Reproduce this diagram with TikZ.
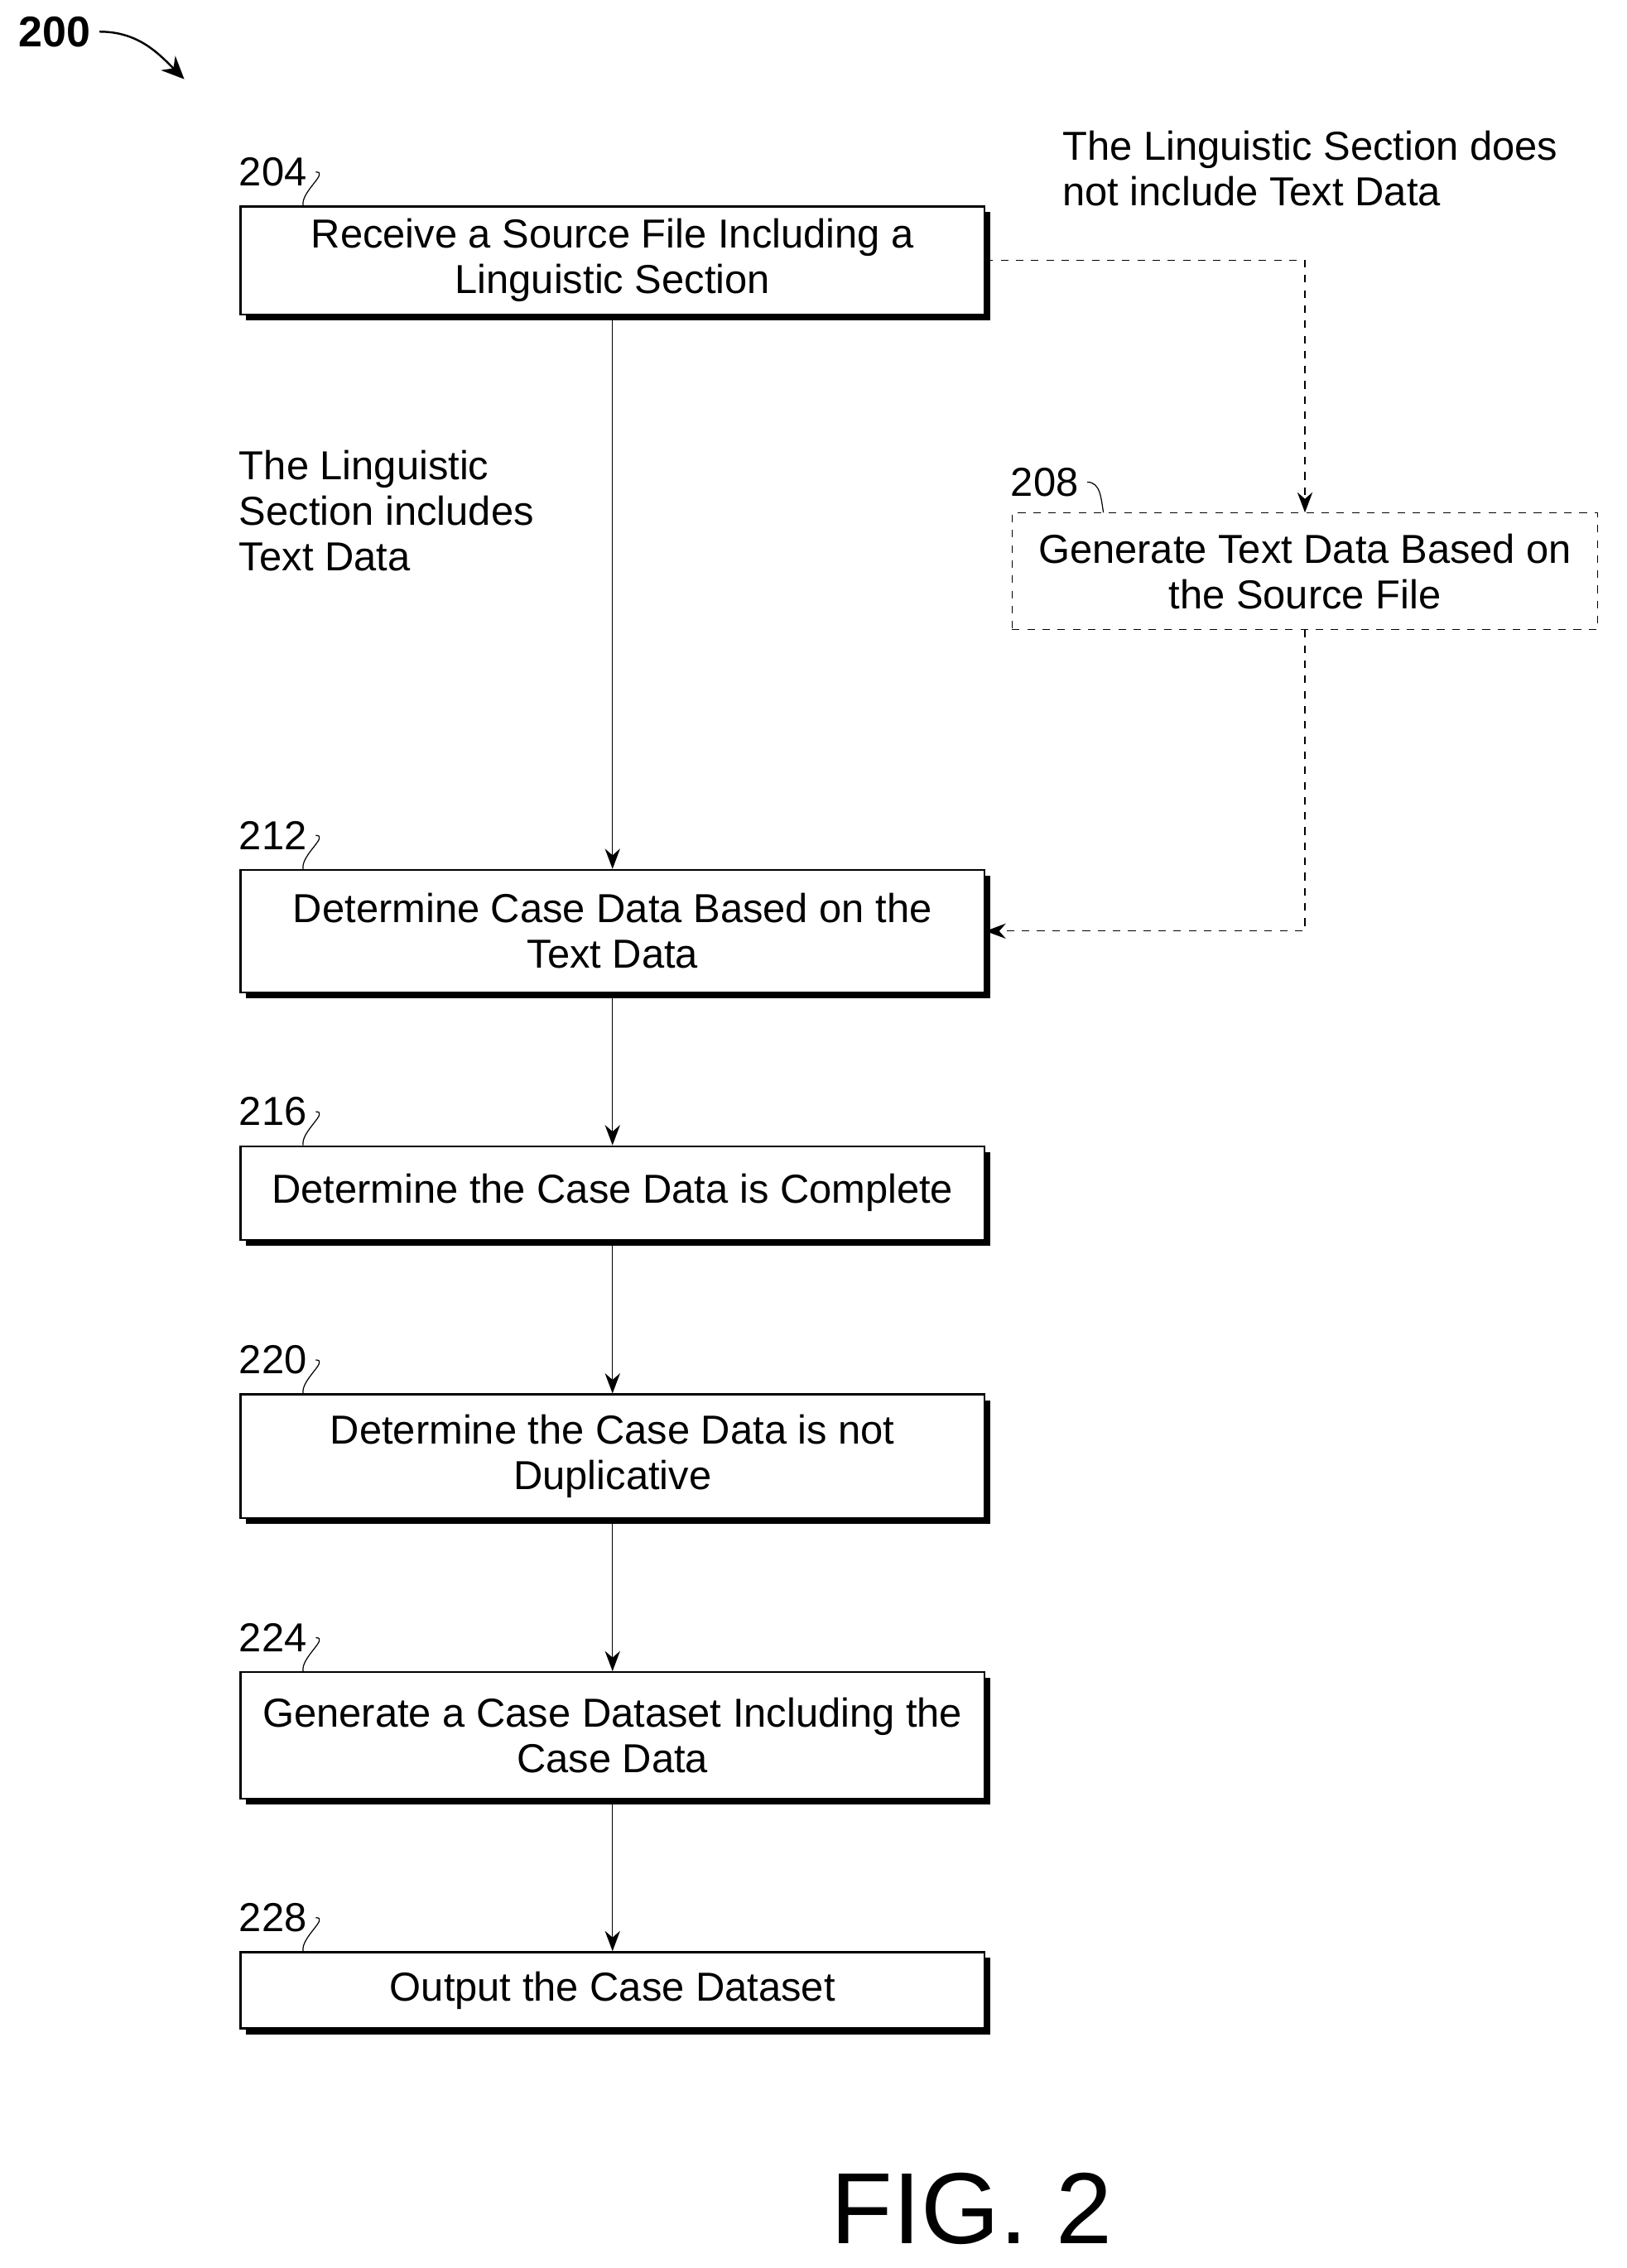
\documentclass[tikz,border=0pt]{standalone}
\usepackage{fontspec}
\setmainfont{Liberation Sans}
\usetikzlibrary{positioning,arrows.meta}
\tikzset{
  stepbox/.style={draw, thick, fill=white, minimum width=10.34cm, align=center, font=\fontsize{16}{18}\selectfont, inner sep=2pt},
  lbl/.style={font=\fontsize{16}{18}\selectfont, anchor=west},
  flow/.style={-{Stealth[length=8pt,width=6pt]}, thin},
}
\begin{document}
\begin{tikzpicture}[x=0.02cm,y=-0.02cm]
  \useasboundingbox (0,0) rectangle (1130,1576);
  % steps
  \foreach \n/\y/\h/\txt in {
      204/181/75/{Receive a Source File Including a\\Linguistic Section},
      212/647/85/{Determine Case Data Based on the\\Text Data},
      216/829/65/{Determine the Case Data is Complete},
      220/1012/86/{Determine the Case Data is not\\Duplicative},
      224/1206/88/{Generate a Case Dataset Including the\\Case Data},
      228/1383/53/{Output the Case Dataset}} {
    \fill (171,\y-\h/2+4) rectangle (688,\y+\h/2+4);
    \node[stepbox, minimum height=\h*0.02cm] (b\n) at (425.5,\y) {\txt};
    \node[lbl] (l\n) at (160,\y-\h/2-24) {\n};
    \draw (l\n.east) to[out=0,in=100] ([xshift=-4.3cm]b\n.north);
  }
  \node[stepbox, dashed, thin, minimum width=8.14cm, minimum height=1.62cm] (b208) at (906.5,397) {Generate Text Data Based on\\the Source File};
  \node[lbl] (l208) at (696,335) {208};
  \draw (l208.east) to[out=0,in=100] ([xshift=-2.8cm]b208.north);

  % connectors
  \foreach \a/\b in {204/212, 212/216, 216/220, 220/224, 224/228}
    \draw[flow] (b\a) -- (b\b);
  \draw[flow, dashed] (b204.east) -| (b208.north);
  \draw[flow, dashed] (b208.south) |- (b212.east);

  % notes
  \node[lbl, align=left] (n1) at (732,117) {The Linguistic Section does\\not include Text Data};
  \node[lbl, align=left] (n2) at (160,355) {The Linguistic\\Section includes\\Text Data};
  \node[font=\bfseries\fontsize{17}{19}\selectfont] (fig) at (38,22) {200};
  \draw[-{Stealth[length=9pt,width=8pt]}, thick] (fig.east) to[out=0,in=135] (128,55);
  \node[font=\fontsize{40}{44}\selectfont] (cap) at (675,1535) {FIG. 2};
\end{tikzpicture}
\end{document}
